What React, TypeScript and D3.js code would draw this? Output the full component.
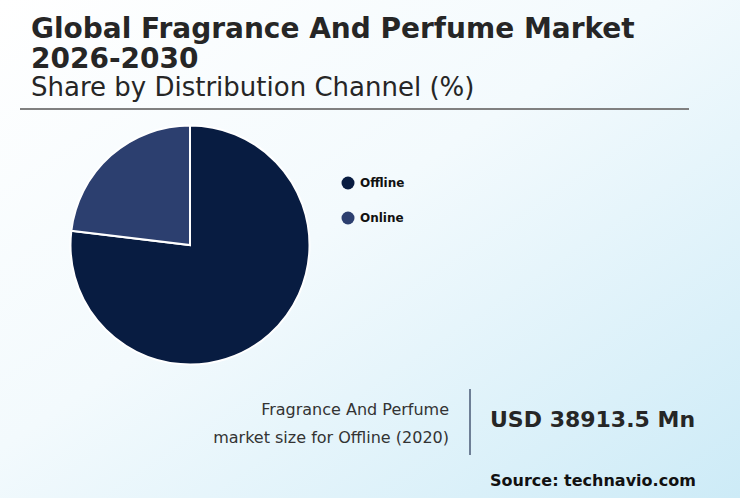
import { useEffect, useRef } from 'react'
import * as d3 from 'd3'

const categories = ['Offline', 'Online']
const shares = [76.9, 23.1]
const colors = ['#081c41', '#2c3f6f']

const titleLines = ['Global Fragrance And Perfume Market', '2026-2030']
const subtitle = 'Share by Distribution Channel (%)'
const noteLines = ['Fragrance And Perfume', 'market size for Offline (2020)']
const valueText = 'USD 38913.5 Mn'
const sourceText = 'Source: technavio.com'

const W = 740
const H = 498

export default function App() {
  const ref = useRef<SVGSVGElement>(null)

  useEffect(() => {
    if (!ref.current) return
    const svg = d3.select(ref.current)
    svg.selectAll('*').remove()

    // background gradient
    const defs = svg.append('defs')
    const grad = defs.append('linearGradient')
      .attr('id', 'bg')
      .attr('x1', '0').attr('y1', '0').attr('x2', '1').attr('y2', '1')
    grad.append('stop').attr('offset', '0%').attr('stop-color', '#ffffff')
    grad.append('stop').attr('offset', '45%').attr('stop-color', '#f3fafd')
    grad.append('stop').attr('offset', '100%').attr('stop-color', '#cdebf7')

    svg.append('rect').attr('width', W).attr('height', H).attr('fill', 'url(#bg)')

    const font = 'DejaVu Sans, sans-serif'

    // title
    titleLines.forEach((t, i) => {
      svg.append('text')
        .attr('x', 31)
        .attr('y', 38 + i * 30)
        .attr('font-family', font)
        .attr('font-weight', 'bold')
        .attr('font-size', '28px')
        .attr('fill', '#262626')
        .text(t)
    })
    svg.append('text')
      .attr('x', 31)
      .attr('y', 96)
      .attr('font-family', font)
      .attr('font-size', '26px')
      .attr('fill', '#262626')
      .text(subtitle)

    svg.append('line')
      .attr('x1', 20).attr('x2', 689)
      .attr('y1', 109).attr('y2', 109)
      .attr('stroke', '#808080')
      .attr('stroke-width', 2)

    // pie
    const data = categories.map((c, i) => ({ name: c, value: shares[i], color: colors[i] }))
    const pie = d3.pie<typeof data[number]>().value(d => d.value).sort(null)
    const arc = d3.arc<d3.PieArcDatum<typeof data[number]>>().innerRadius(0).outerRadius(119.5)
    const g = svg.append('g').attr('transform', 'translate(190,245)')
    g.selectAll('path')
      .data(pie(data))
      .join('path')
      .attr('d', arc)
      .attr('fill', d => d.data.color)
      .attr('stroke', '#ffffff')
      .attr('stroke-width', 2)

    // legend
    const legend = svg.append('g').attr('transform', 'translate(348,183)')
    data.forEach((d, i) => {
      const row = legend.append('g').attr('transform', `translate(0,${i * 35})`)
      row.append('circle').attr('r', 6.5).attr('fill', d.color)
      row.append('text')
        .attr('x', 12)
        .attr('y', 4)
        .attr('font-family', font)
        .attr('font-weight', 'bold')
        .attr('font-size', '12px')
        .attr('fill', '#111111')
        .text(d.name)
    })

    // bottom note
    noteLines.forEach((t, i) => {
      svg.append('text')
        .attr('x', 449)
        .attr('y', 415 + i * 28)
        .attr('text-anchor', 'end')
        .attr('font-family', font)
        .attr('font-size', '16px')
        .attr('fill', '#333333')
        .text(t)
    })
    svg.append('line')
      .attr('x1', 470).attr('x2', 470)
      .attr('y1', 389).attr('y2', 455)
      .attr('stroke', '#6e7f96')
      .attr('stroke-width', 2)
    svg.append('text')
      .attr('x', 490)
      .attr('y', 427)
      .attr('font-family', font)
      .attr('font-weight', 'bold')
      .attr('font-size', '22px')
      .attr('fill', '#262626')
      .text(valueText)
    svg.append('text')
      .attr('x', 490)
      .attr('y', 486)
      .attr('font-family', font)
      .attr('font-weight', 'bold')
      .attr('font-size', '16px')
      .attr('fill', '#111111')
      .text(sourceText)
  }, [])

  return (
    <div style={{ position: 'absolute', left: 0, top: 0 }}>
      <svg ref={ref} width={W} height={H} style={{ display: 'block' }} />
    </div>
  )
}
